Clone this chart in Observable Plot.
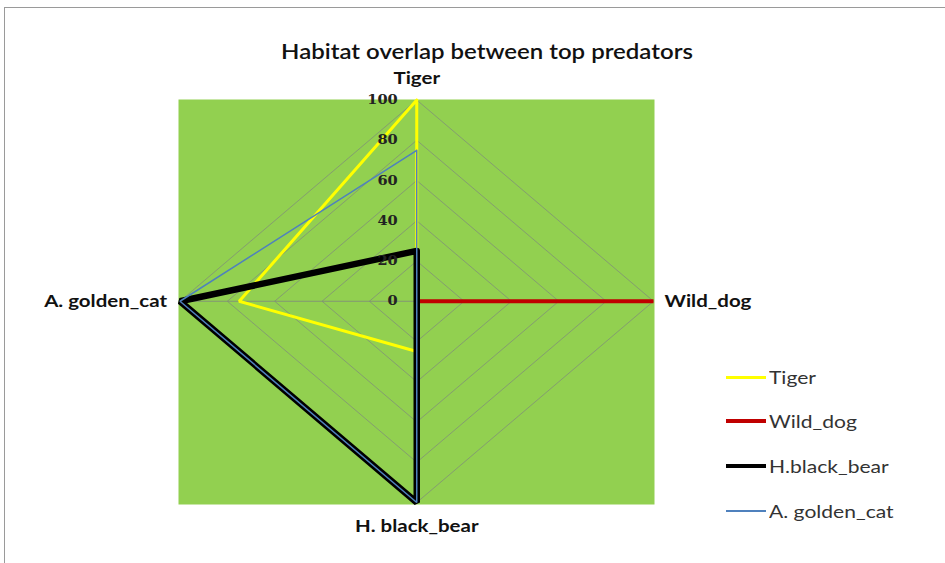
<!DOCTYPE html>
<html>
<head>
<meta charset="utf-8">
<script src="https://cdn.jsdelivr.net/npm/d3@7"></script>
<script src="https://cdn.jsdelivr.net/npm/@observablehq/plot@0.6"></script>
<style>
  html, body { margin: 0; padding: 0; background: #fff; }
  #wrap { position: relative; width: 945px; height: 563px; overflow: hidden; }
  #border { position: absolute; left: 4px; top: 7px; width: 960px; height: 580px;
            border-left: 1.5px solid #9a9a9a; border-top: 1.5px solid #9a9a9a; }
  #title { position: absolute; left: 486.5px; top: 39px; white-space: nowrap;
           transform: translateX(-50%) scaleX(1.17); transform-origin: 50% 50%;
           font-family: Lato, "Open Sans", sans-serif; font-size: 20.5px; font-weight: 600; color: #111; }
  #chart { position: absolute; left: 0; top: 0; }
  #legend { position: absolute; left: 726px; top: 366px; font-family: Lato, "Open Sans", sans-serif;
            font-size: 18px; color: #333; }
  .item { position: absolute; left: 0; height: 22px; white-space: nowrap; display: flex; align-items: center; }
  .sw { display: inline-block; width: 40px; margin-right: 3px; }
  .lt { display: inline-block; transform: scaleX(1.17); transform-origin: 0 50%; }
</style>
</head>
<body>
<div id="wrap">
  <div id="border"></div>
  <div id="title">Habitat overlap between top predators</div>
  <div id="chart"></div>
  <div id="legend"></div>
</div>
<script>
// Axes of the radar (clockwise from top)
const axes = ["Tiger", "Wild_dog", "H. black_bear", "A. golden_cat"];
// Series names (legend labels)
const seriesNames = ["Tiger", "Wild_dog", "H.black_bear", "A. golden_cat"];
// Values per series, in the order of `axes`
const tigerValues     = [100, 0, 25, 75];
const wildDogValues   = [0, 100, 0, 0];
const blackBearValues = [25, 0, 100, 100];
const goldenCatValues = [75, 0, 100, 100];
// Radial tick labels
const tickValues = [0, 20, 40, 60, 80, 100];
const gridLevels = [20, 40, 60, 80, 100];

const seriesColors = ["#FFFF00", "#C00000", "#000000", "#4F81BD"];
const seriesWidths = [3, 4, 6.5, 1.5];
const legendWidths = [3, 4, 4, 1.5];

// axis direction: top, right, bottom, left
const dirs = axes.map((_, i) => {
  const a = i * Math.PI / 2;
  return [Math.sin(a), Math.cos(a)];
});
function polygon(values, extra = {}) {
  const pts = values.map((v, i) => ({x: v * dirs[i][0], y: v * dirs[i][1], ...extra}));
  pts.push({...pts[0]});
  return pts;
}

const gridData = gridLevels.flatMap(l => polygon(axes.map(() => l), {level: l}));
const spokes = axes.map((a, i) => ({x1: 0, y1: 0, x2: 100 * dirs[i][0], y2: 100 * dirs[i][1]}));
const allSeries = [tigerValues, wildDogValues, blackBearValues, goldenCatValues];

const labelFont = {fontFamily: "Lato, 'Open Sans', sans-serif", fontSize: 17.5, fontWeight: "bold", fill: "#111"};
const catLabels = [
  {x: 0, y: 100, text: axes[0], anchor: "middle", dx: 0, dy: -22},
  {x: 100, y: 0, text: axes[1], anchor: "start", dx: 11, dy: 0},
  {x: 0, y: -100, text: axes[2], anchor: "middle", dx: 0, dy: 24},
  {x: -100, y: 0, text: axes[3], anchor: "end", dx: -13, dy: 0}
];

const chart = Plot.plot({
  width: 945,
  height: 563,
  marginLeft: 178,
  marginRight: 291,
  marginTop: 99,
  marginBottom: 59,
  x: {domain: [-100, 100], range: [179.5, 653], axis: null},
  y: {domain: [-100, 100], range: [502, 99.5], axis: null},
  style: {background: "transparent", overflow: "visible"},
  marks: [
    Plot.frame({fill: "#92D050", stroke: null}),
    Plot.line(gridData, {x: "x", y: "y", z: "level", stroke: "#7f8c7a", strokeWidth: 0.9, strokeOpacity: 0.85}),
    Plot.link(spokes, {x1: "x1", y1: "y1", x2: "x2", y2: "y2", stroke: "#7f8c7a", strokeWidth: 1, strokeOpacity: 0.85}),
    ...allSeries.map((vals, k) => Plot.line(polygon(vals), {
      x: "x", y: "y", stroke: seriesColors[k], strokeWidth: seriesWidths[k], strokeLinejoin: "miter"
    })),
    Plot.text(tickValues, {x: 0, y: d => d, text: d => String(d), textAnchor: "end", dx: -19,
      fontFamily: "'DejaVu Serif', 'Liberation Serif', serif", fontWeight: "bold", fontSize: 12.5, fill: "#222"}),
    ...catLabels.map(c => Plot.text([c], {x: "x", y: "y", text: "text", textAnchor: c.anchor, dx: c.dx, dy: c.dy, ...labelFont}))
  ]
});

// widen the text horizontally (the reference picture is stretched ~1.17x horizontally)
chart.querySelectorAll("text").forEach(t => {
  const tr = t.getAttribute("transform");
  if (tr && tr.includes("translate")) {
    t.setAttribute("transform", tr + " scale(1.17,1)");
  } else {
    const x = +(t.getAttribute("x") || 0), y = +(t.getAttribute("y") || 0);
    t.removeAttribute("x"); t.removeAttribute("y");
    t.setAttribute("transform", `translate(${x},${y}) scale(1.17,1)` + (tr ? " " + tr : ""));
  }
});
document.getElementById("chart").appendChild(chart);

// Legend
const legend = document.getElementById("legend");
const legendTops = [0, 44, 89, 134];
seriesNames.forEach((name, k) => {
  const item = document.createElement("div");
  item.className = "item";
  item.style.top = legendTops[k] + "px";
  const sw = document.createElement("span");
  sw.className = "sw";
  sw.style.height = legendWidths[k] + "px";
  sw.style.background = seriesColors[k];
  item.appendChild(sw);
  const lt = document.createElement("span");
  lt.className = "lt";
  lt.textContent = name;
  item.appendChild(lt);
  legend.appendChild(item);
});
</script>
</body>
</html>
